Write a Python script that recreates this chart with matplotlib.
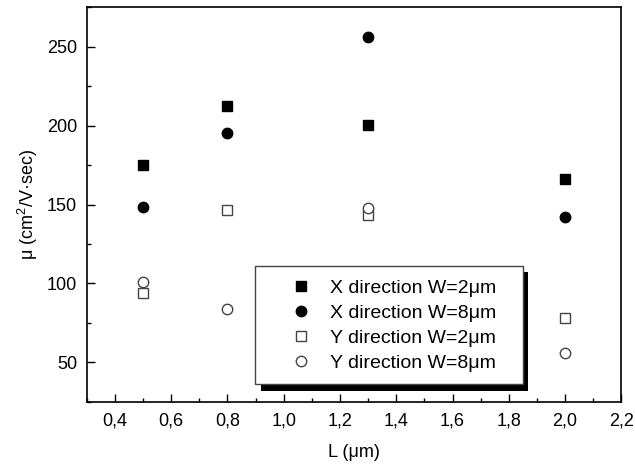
import numpy as np
import matplotlib.pyplot as plt
from matplotlib.patches import Rectangle
from matplotlib.ticker import MultipleLocator, FuncFormatter

plt.rcParams['font.family'] = ['Liberation Sans', 'DejaVu Sans']
plt.rcParams['mathtext.fontset'] = 'custom'
plt.rcParams['mathtext.rm'] = 'Liberation Sans'

# data
L = [0.5, 0.8, 1.3, 2.0]
x_w2 = [175.2, 212.2, 200.5, 166.3]
x_w8 = [148.5, 195.7, 256.3, 141.9]
y_w2 = [94.1, 146.5, 143.3, 77.9]
y_w8 = [101.1, 83.6, 147.8, 56.0]
labels = ["X direction W=2μm", "X direction W=8μm",
          "Y direction W=2μm", "Y direction W=8μm"]

fig = plt.figure(figsize=(6.35, 4.66), dpi=100)
ax = fig.add_axes([0.1365, 0.138, 0.842, 0.846])

ax.plot(L, x_w2, "s", color="black", markersize=6.5, label=labels[0])
ax.plot(L, x_w8, "o", color="black", markersize=7.5, label=labels[1])
ax.plot(L, y_w2, "s", mfc="white", mec="#444444", mew=1, markersize=6.5, label=labels[2])
ax.plot(L, y_w8, "o", mfc="white", mec="#444444", mew=1, markersize=7.5, label=labels[3])

ax.set_xlim(0.3, 2.2)
ax.set_ylim(25, 275)
ax.xaxis.set_major_locator(MultipleLocator(0.2))
ax.xaxis.set_minor_locator(MultipleLocator(0.1))
ax.yaxis.set_minor_locator(MultipleLocator(25))
ax.xaxis.set_major_formatter(FuncFormatter(lambda v, p: ("%.1f" % v).replace(".", ",")))
ax.set_yticks([50, 100, 150, 200, 250])
ax.tick_params(which="both", direction="in", top=False, right=False, labelsize=13)
ax.tick_params(axis="x", pad=8)
ax.tick_params(axis="y", pad=7)
ax.tick_params(which="major", length=6, width=1)
ax.tick_params(which="minor", length=3, width=1)
for s in ax.spines.values():
    s.set_linewidth(1.2)

ax.set_xlabel("L (μm)", fontsize=13, labelpad=10)
ax.set_ylabel("μ (cm$^2$/V·sec)", fontsize=13, labelpad=5)

# legend box with black drop shadow
ax.add_patch(Rectangle((0.326, 0.028), 0.50, 0.30, transform=ax.transAxes,
                       facecolor="black", edgecolor="none", zorder=4))
ax.add_patch(Rectangle((0.314, 0.045), 0.502, 0.299, transform=ax.transAxes,
                       facecolor="white", edgecolor="#444444", lw=1, zorder=5))
leg = ax.legend(loc="center", bbox_to_anchor=(0.572, 0.193), frameon=False,
                fontsize=14, handletextpad=0.9, labelspacing=0.38, handlelength=1.2)
leg.set_zorder(6)

fig.savefig("out.png", dpi=100)
